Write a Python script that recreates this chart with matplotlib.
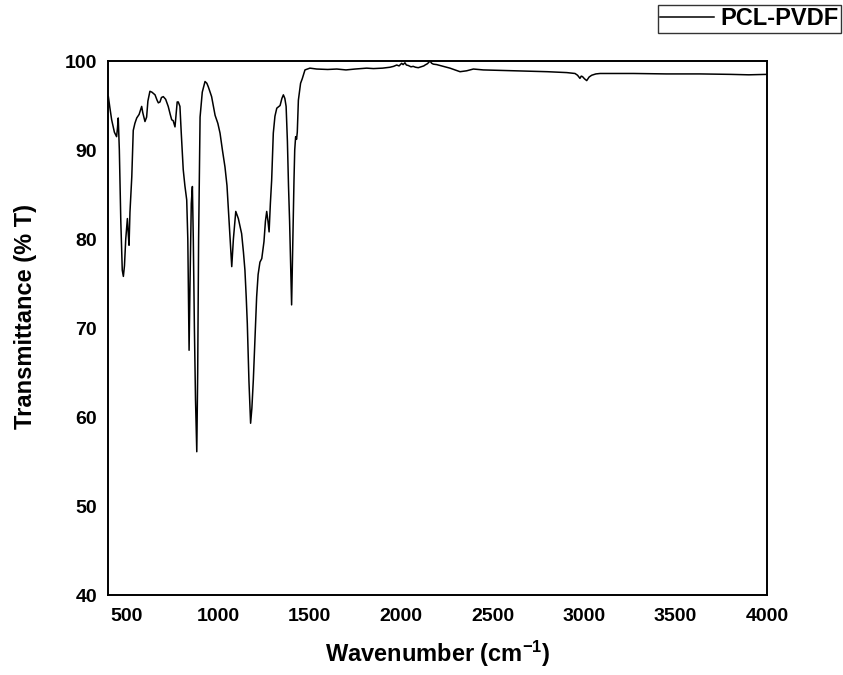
import matplotlib

matplotlib.use("Agg")

import matplotlib.pyplot as plt
import numpy as np

# FTIR spectrum (wavenumber cm-1, %T)
WAVENUMBER = [
    402, 410, 420, 435, 447, 452, 456, 462, 470, 478, 484, 490, 497, 506, 511,
    515, 520, 530, 538, 547, 557, 570, 584, 590, 602, 611, 618, 629, 640, 657,
    668, 675, 684, 692, 702, 715, 729, 740, 748, 756, 766, 772, 778, 784, 793,
    800, 811, 820, 830, 836, 840, 843, 848, 855, 861, 866, 872, 878, 885, 890,
    895, 903, 915, 930, 940, 948, 958, 966, 975, 985, 1000, 1012, 1025, 1039,
    1050, 1057, 1065, 1076, 1085, 1098, 1112, 1130, 1140, 1148, 1155, 1161,
    1170, 1179, 1186, 1194, 1203, 1212, 1220, 1230, 1240, 1252, 1260, 1267,
    1274, 1280, 1287, 1294, 1303, 1312, 1322, 1340, 1350, 1358, 1366, 1373,
    1380, 1386, 1392, 1398, 1403, 1408, 1416, 1420, 1425, 1430, 1434, 1440,
    1452, 1461, 1476, 1490, 1503, 1540, 1600, 1650, 1700, 1750, 1813, 1850,
    1900, 1940, 1960, 1977, 1990, 2004, 2012, 2022, 2030, 2040, 2055, 2067,
    2080, 2095, 2110, 2125, 2132, 2145, 2159, 2168, 2177, 2195, 2213, 2240,
    2268, 2295, 2323, 2340, 2359, 2396, 2450, 2541, 2630, 2722, 2800, 2906,
    2951, 2965, 2978, 2985, 2992, 3003, 3015, 3028, 3042, 3065, 3088, 3270,
    3450, 3634, 3800, 3900, 4000,
]
TRANSMITTANCE = [
    96.0, 94.8, 93.4, 92.0, 91.5, 92.5, 93.6, 90.0, 82.0, 76.5, 75.8, 77.0,
    80.0, 82.3, 80.5, 79.3, 83.0, 87.0, 92.2, 93.0, 93.6, 94.0, 94.9, 94.2,
    93.2, 93.7, 95.5, 96.6, 96.5, 96.2, 95.6, 95.3, 95.4, 95.9, 96.0, 95.7,
    94.9, 94.0, 93.4, 93.3, 92.6, 94.0, 95.4, 95.4, 94.9, 92.0, 87.8, 86.0,
    84.4, 80.0, 73.0, 67.5, 75.0, 84.0, 85.9, 80.0, 70.0, 62.0, 56.1, 65.0,
    80.0, 93.7, 96.5, 97.7, 97.5, 97.1, 96.5, 96.0, 95.0, 93.9, 93.0, 91.9,
    90.0, 88.1, 86.0, 83.6, 81.0, 76.9, 80.0, 83.1, 82.3, 80.6, 78.5, 76.5,
    73.5, 70.5, 64.0, 59.3, 61.0, 64.2, 69.0, 73.5, 76.0, 77.4, 77.8, 79.7,
    82.0, 83.1, 82.0, 80.8, 84.0, 86.6, 91.9, 93.8, 94.7, 95.0, 95.8, 96.2,
    95.8, 94.9, 91.0, 86.0, 82.0, 77.0, 72.6, 78.0, 86.6, 90.0, 91.5, 91.2,
    92.0, 95.6, 97.5, 98.0, 99.0, 99.1, 99.2, 99.1, 99.05, 99.1, 99.0, 99.1,
    99.2, 99.15, 99.2, 99.3, 99.4, 99.55, 99.45, 99.74, 99.6, 99.8, 99.55,
    99.5, 99.35, 99.4, 99.3, 99.25, 99.35, 99.45, 99.55, 99.7, 100.0, 99.75,
    99.65, 99.6, 99.5, 99.35, 99.2, 99.0, 98.8, 98.85, 98.9, 99.1, 99.0,
    98.95, 98.9, 98.85, 98.8, 98.7, 98.6, 98.4, 98.05, 98.3, 98.25, 98.0,
    97.8, 98.2, 98.4, 98.55, 98.6, 98.6, 98.55, 98.55, 98.5, 98.45, 98.5,
]
X_TICKS = [500, 1000, 1500, 2000, 2500, 3000, 3500, 4000]
Y_TICKS = [40, 50, 60, 70, 80, 90, 100]

plt.rcParams["font.family"] = ["Liberation Sans", "DejaVu Sans"]
plt.rcParams["mathtext.fontset"] = "custom"
plt.rcParams["mathtext.rm"] = "Liberation Sans:bold"
plt.rcParams["mathtext.bf"] = "Liberation Sans:bold"
plt.rcParams["mathtext.it"] = "Liberation Sans:bold"

fig = plt.figure(figsize=(8.43, 6.75), dpi=100)
ax = fig.add_axes([0.1281, 0.1185, 0.7818, 0.7911])

line, = ax.plot(np.array(WAVENUMBER), np.array(TRANSMITTANCE), color="black", linewidth=1.1)

ax.set_xlim(400, 4000)
ax.set_ylim(40, 100)
ax.set_xticks(X_TICKS)
ax.set_yticks(Y_TICKS)
ax.tick_params(axis="both", length=0, labelsize=14)
ax.tick_params(axis="x", pad=9)
ax.tick_params(axis="y", pad=8)
for lbl in ax.get_xticklabels() + ax.get_yticklabels():
    lbl.set_fontweight("bold")
for sp in ax.spines.values():
    sp.set_linewidth(1.4)

ax.set_xlabel("Wavenumber (cm$^{-1}$)", fontsize=17, fontweight="bold", labelpad=10)
ax.set_ylabel("Transmittance (% T)", fontsize=17, fontweight="bold")
ax.yaxis.set_label_coords(-0.108, 0.521)

leg = fig.legend([line], ["PCL-PVDF"], loc="upper right", bbox_to_anchor=(0.9976, 0.9926),
                 borderaxespad=0, fancybox=False, frameon=True, handlelength=2.3,
                 handletextpad=0.25, borderpad=0.1, prop={"weight": "bold", "size": 17})
leg.get_frame().set_edgecolor("black")
leg.get_frame().set_linewidth(1.0)

fig.savefig("out.png", dpi=100)
